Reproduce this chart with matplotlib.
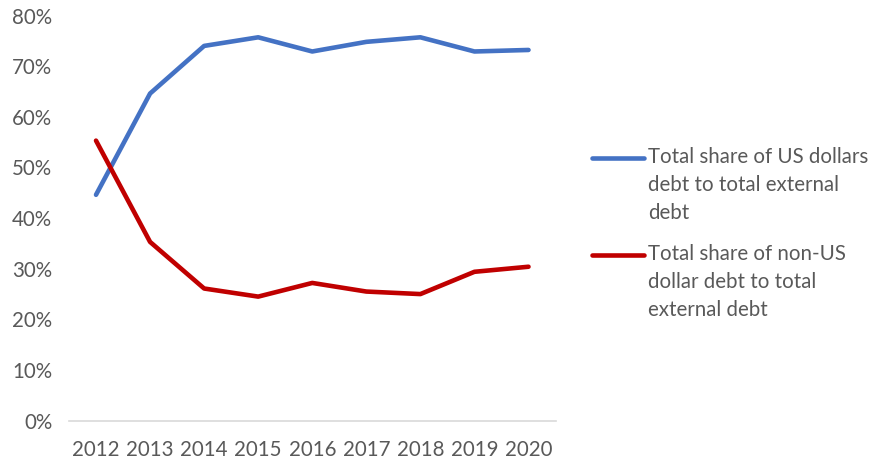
import matplotlib.pyplot as plt
from matplotlib.lines import Line2D
from matplotlib.ticker import PercentFormatter

plt.rcParams['font.family'] = ['Lato', 'DejaVu Sans']

years = ['2012', '2013', '2014', '2015', '2016', '2017', '2018', '2019', '2020']
usd_share = [44.6, 64.6, 74.0, 75.7, 72.9, 74.8, 75.7, 72.9, 73.2]
non_usd_share = [55.3, 35.3, 26.1, 24.5, 27.2, 25.5, 25.0, 29.4, 30.4]
labels = ['Total share of US dollars\ndebt to total external\ndebt',
          'Total share of non-US\ndollar debt to total\nexternal debt']

blue = '#4472C4'
red = '#C00000'
grey = '#595959'

fig = plt.figure(figsize=(8.72, 4.62), dpi=100)
ax = fig.add_axes([0.0791, 0.0894, 0.558, 0.877])

x = range(len(years))
ax.plot(x, usd_share, color=blue, lw=3.3, solid_capstyle='round', solid_joinstyle='round')
ax.plot(x, non_usd_share, color=red, lw=3.3, solid_capstyle='round', solid_joinstyle='round')

ax.set_xlim(-0.5, len(years) - 0.5)
ax.set_ylim(0, 80)
ax.set_yticks(range(0, 81, 10))
ax.yaxis.set_major_formatter(PercentFormatter(decimals=0))
ax.set_xticks(list(x))
ax.set_xticklabels(years)

for side in ['top', 'right', 'left']:
    ax.spines[side].set_visible(False)
ax.spines['bottom'].set_color('#D9D9D9')
ax.spines['bottom'].set_linewidth(1.2)
ax.tick_params(length=0, labelsize=14.8, colors=grey)
ax.tick_params(axis='x', pad=14)
ax.tick_params(axis='y', pad=12)

# legend drawn by hand so the handle sits on the first text line
W, H = 872, 462
for (ypx, color, text) in [(157.7, blue, labels[0]), (255, red, labels[1])]:
    fy = 1 - ypx / H
    fig.add_artist(Line2D([592 / W, 644 / W], [fy, fy], color=color, lw=3.3,
                          solid_capstyle='round', transform=fig.transFigure))
    fig.text(648 / W, 1 - (ypx - 10.5) / H, text, fontsize=14.8, color=grey,
             va='top', ha='left', linespacing=1.5)

fig.savefig('out.png', dpi=100)
